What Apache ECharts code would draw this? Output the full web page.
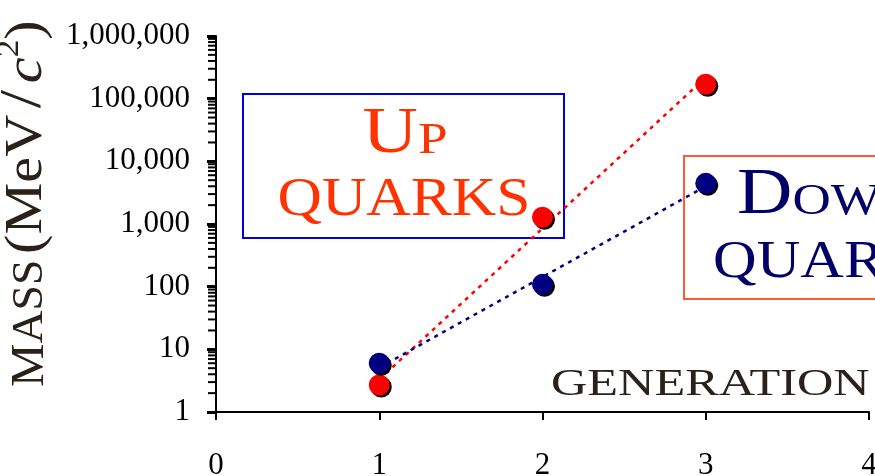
<!DOCTYPE html>
<html>
<head>
<meta charset="utf-8">
<script src="https://cdn.jsdelivr.net/npm/echarts@6/dist/echarts.min.js"></script>
<style>
  html, body { margin: 0; padding: 0; background: #fff; }
  #chartcontainer { width: 875px; height: 476px; }
</style>
</head>
<body>
<div id="chartcontainer"></div>
<script>
// generations on the x axis
const generations = [1, 2, 3]
// masses in MeV/c^2
const upMass = [2.7, 1280, 170000]
const downMass = [6.0, 109, 4460]
// dotted trend lines, end values
const upTrend = [[1, 3.3], [3, 219000]]
const downTrend = [[1, 5.1], [3, 4000]]
// x tick labels
const xTicks = [0, 1, 2, 3, 4]

const serif = 'Liberation Serif'
const ink = '#2a2118'

// log minor ticks 2..9 on every decade
const minorTicks = []
for (let k = 0; k < 6; k++) {
  for (let m = 2; m <= 9; m++) minorTicks.push(m * Math.pow(10, k))
}

const chart = echarts.init(document.getElementById('chartcontainer'))

const dot = (color) => ({
  color: color,
  opacity: 1,
  shadowColor: '#000',
  shadowBlur: 0,
  shadowOffsetX: 2,
  shadowOffsetY: 2
})

chart.setOption({
  animation: false,
  grid: { left: 216, right: 6, top: 36, bottom: 64, containLabel: false, outerBoundsMode: 'none' },
  xAxis: {
    type: 'value',
    min: xTicks[0],
    max: xTicks[xTicks.length - 1],
    interval: 1,
    splitLine: { show: false },
    axisLine: { lineStyle: { color: '#000', width: 2 } },
    axisTick: { length: 8, lineStyle: { color: '#000', width: 2 } },
    axisLabel: { color: '#000', fontFamily: serif, fontSize: 31, margin: 38 }
  },
  yAxis: {
    type: 'log',
    logBase: 10,
    min: 1,
    max: 1000000,
    splitLine: { show: false },
    axisLine: { lineStyle: { color: '#000', width: 2 } },
    axisTick: { length: 9, lineStyle: { color: '#000', width: 3 } },
    axisLabel: {
      color: '#000',
      fontFamily: serif,
      fontSize: 31,
      margin: 26,
      formatter: v => Math.round(v).toLocaleString('en-US')
    }
  },
  series: [
    {
      type: 'custom',
      coordinateSystem: 'cartesian2d',
      clip: false,
      silent: true,
      data: minorTicks.map(v => [0, v]),
      renderItem (params, api) {
        const p = api.coord([api.value(0), api.value(1)])
        return {
          type: 'line',
          shape: { x1: p[0] - 8, y1: p[1], x2: p[0], y2: p[1] },
          style: { stroke: '#000', lineWidth: 2 }
        }
      }
    },
    {
      name: 'up trend',
      type: 'line',
      symbol: 'none',
      data: upTrend,
      lineStyle: { color: '#ff0000', width: 2.5, type: [4, 5] }
    },
    {
      name: 'down trend',
      type: 'line',
      symbol: 'none',
      data: downTrend,
      lineStyle: { color: '#000080', width: 2.5, type: [4, 5] }
    },
    {
      name: 'Up quarks',
      type: 'scatter',
      symbolSize: 21,
      z: 5,
      itemStyle: dot('#ff0000'),
      data: generations.map((g, i) => [g, upMass[i]])
    },
    {
      name: 'Down quarks',
      type: 'scatter',
      symbolSize: 21,
      z: 5,
      itemStyle: dot('#000080'),
      data: generations.map((g, i) => [g, downMass[i]])
    }
  ],
  graphic: [
    {
      type: 'rect',
      shape: { x: 243, y: 94, width: 321, height: 144 },
      style: { fill: 'none', stroke: '#0000dd', lineWidth: 2 }
    },
    {
      type: 'rect',
      shape: { x: 684, y: 156, width: 320, height: 143 },
      style: { fill: 'none', stroke: '#ff5a36', lineWidth: 2 }
    },
    {
      type: 'text',
      x: 405, y: 167, scaleX: 1.18,
      style: {
        text: '{a|U}{b|P}',
        align: 'center', verticalAlign: 'bottom',
        rich: {
          a: { fontFamily: serif, fontSize: 65, fill: '#ff3300', verticalAlign: 'bottom' },
          b: { fontFamily: serif, fontSize: 45, fill: '#ff3300', verticalAlign: 'bottom', padding: [0, 0, 3, 0] }
        }
      }
    },
    {
      type: 'text',
      x: 404, y: 228, scaleX: 1.14,
      style: { text: 'QUARKS', align: 'center', verticalAlign: 'bottom', fontFamily: serif, fontSize: 54, fill: '#ff3300' }
    },
    {
      type: 'text',
      x: 737, y: 228, scaleX: 1.18,
      style: {
        text: '{a|D}{b|OWN}',
        align: 'left', verticalAlign: 'bottom',
        rich: {
          a: { fontFamily: serif, fontSize: 65, fill: '#000066', verticalAlign: 'bottom' },
          b: { fontFamily: serif, fontSize: 45, fill: '#000066', verticalAlign: 'bottom', padding: [0, 0, 3, 0] }
        }
      }
    },
    {
      type: 'text',
      x: 713, y: 290, scaleX: 1.14,
      style: { text: 'QUARKS', align: 'left', verticalAlign: 'bottom', fontFamily: serif, fontSize: 53, fill: '#000066' }
    },
    {
      type: 'text',
      x: 551, y: 404, scaleX: 1.36,
      style: { text: 'GENERATION', align: 'left', verticalAlign: 'bottom', fontFamily: serif, fontSize: 37, fill: ink }
    },
    {
      type: 'text',
      x: 54, y: 387, rotation: Math.PI / 2, scaleX: 1.04,
      style: {
        text: '{m|M}{a|ASS}',
        align: 'left', verticalAlign: 'bottom',
        rich: {
          m: { fontFamily: serif, fontSize: 47, fill: ink, verticalAlign: 'bottom' },
          a: { fontFamily: serif, fontSize: 44, fill: ink, verticalAlign: 'bottom', padding: [0, 0, 2, 0] }
        }
      }
    },
    {
      type: 'text',
      x: 54, y: 254, rotation: Math.PI / 2, scaleX: 1.1,
      style: {
        text: '{p|(MeV}{sl|/}{i|c}{s|2}{p|)}',
        align: 'left', verticalAlign: 'bottom',
        rich: {
          p: { fontFamily: serif, fontSize: 53, fill: ink, verticalAlign: 'bottom' },
          sl: { fontFamily: serif, fontSize: 60, fill: ink, verticalAlign: 'bottom', padding: [0, 6, 0, 6] },
          i: { fontFamily: serif, fontSize: 53, fontStyle: 'italic', fill: ink, verticalAlign: 'bottom' },
          s: { fontFamily: serif, fontSize: 32, fill: ink, verticalAlign: 'top' }
        }
      }
    }
  ]
})
</script>
</body>
</html>
